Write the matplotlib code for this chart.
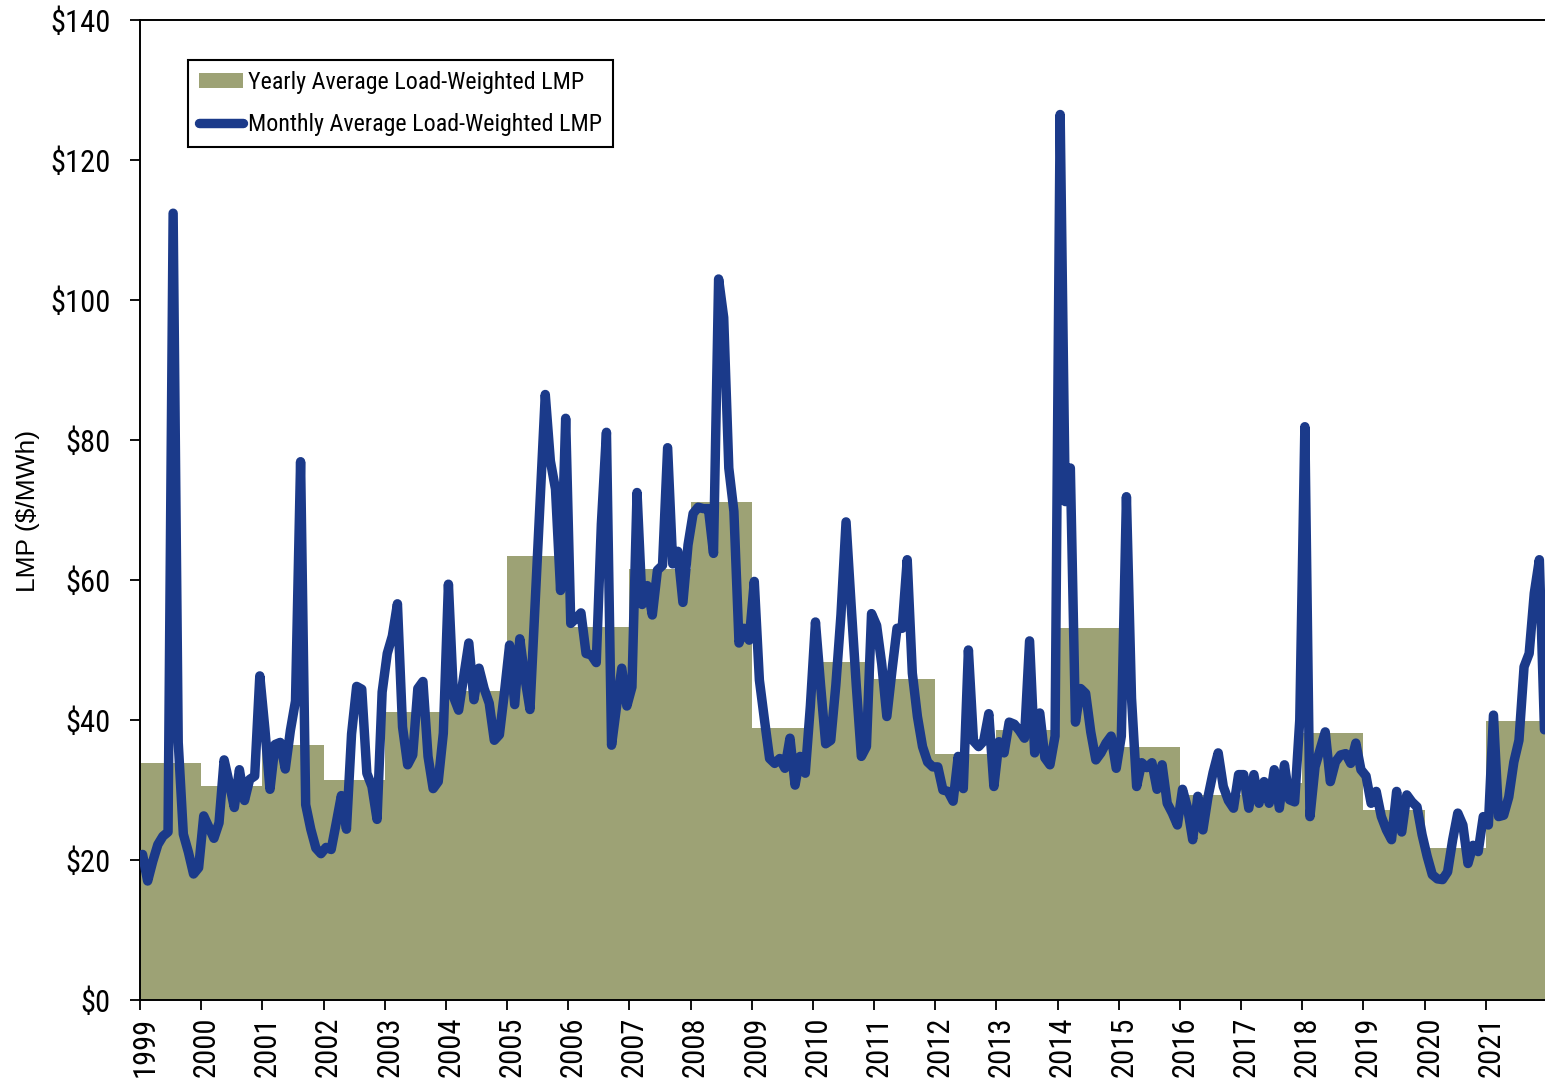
import numpy as np
import matplotlib
matplotlib.use('Agg')
import matplotlib.pyplot as plt
from matplotlib import font_manager
from matplotlib.transforms import ScaledTranslation

# ---- data -------------------------------------------------------------------------------
years = list(range(1999, 2022))
yearly_lmp = [33.9, 30.6, 36.5, 31.4, 41.1, 44.2, 63.4, 53.3, 61.6, 71.1, 38.9, 48.3,
              45.8, 35.1, 38.6, 53.1, 36.1, 29.3, 31.0, 38.2, 27.2, 21.7, 39.8]

# monthly load-weighted LMP, Jan 1999 .. Dec 2021 (one row per year)
monthly_lmp = [
    20.8, 17.0, 19.8, 22.2, 23.4, 24.0, 112.4, 36.8, 23.7, 21.1, 18.0, 18.9,   # 1999
    26.3, 24.7, 23.1, 25.3, 34.3, 31.0, 27.5, 32.9, 28.5, 31.5, 32.0, 46.3,    # 2000
    38.7, 30.1, 36.5, 36.8, 33.0, 38.5, 42.7, 76.9, 27.9, 24.4, 21.7, 20.9,    # 2001
    21.8, 21.5, 25.3, 29.2, 24.4, 38.0, 44.8, 44.4, 32.4, 30.5, 25.8, 44.0,    # 2002
    49.5, 52.0, 56.6, 39.0, 33.6, 35.0, 44.5, 45.5, 34.8, 30.2, 31.2, 38.1,    # 2003
    59.4, 43.3, 41.4, 46.2, 51.0, 42.9, 47.4, 44.5, 42.4, 37.1, 37.9, 44.0,    # 2004
    50.7, 42.2, 51.6, 46.0, 41.5, 56.5, 71.5, 86.5, 77.0, 73.0, 58.5, 83.1,    # 2005
    53.8, 54.5, 55.3, 49.5, 49.3, 48.2, 68.0, 81.1, 36.4, 42.0, 47.4, 42.0,    # 2006
    44.7, 72.5, 56.5, 59.2, 55.0, 61.4, 62.1, 78.9, 62.3, 64.1, 56.8, 65.0,    # 2007
    69.5, 70.4, 70.2, 70.2, 63.8, 103.0, 97.5, 76.0, 69.8, 51.0, 53.1, 51.4,   # 2008
    59.8, 45.7, 40.0, 34.5, 33.8, 34.5, 33.1, 37.4, 30.7, 34.8, 32.4, 42.0,    # 2009
    54.0, 45.0, 36.6, 37.1, 45.0, 55.0, 68.3, 56.4, 45.0, 34.8, 36.2, 55.2,    # 2010
    53.5, 48.0, 40.5, 47.0, 53.1, 53.1, 62.9, 46.7, 40.5, 36.2, 34.0, 33.3,    # 2011
    33.3, 30.0, 29.8, 28.4, 34.8, 30.2, 50.0, 37.0, 36.2, 37.0, 40.9, 30.5,    # 2012
    36.9, 35.3, 39.7, 39.4, 38.5, 37.4, 51.3, 35.3, 41.0, 34.6, 33.6, 37.7,    # 2013
    126.5, 71.2, 76.0, 39.7, 44.5, 43.8, 38.3, 34.3, 35.3, 36.7, 37.7, 33.1,   # 2014
    37.7, 71.9, 43.1, 30.5, 33.9, 33.2, 33.9, 30.1, 33.6, 28.1, 26.7, 25.0,    # 2015
    30.1, 27.4, 22.9, 29.1, 24.3, 29.0, 32.5, 35.3, 30.5, 28.5, 27.4, 32.2,    # 2016
    32.2, 27.4, 32.2, 28.1, 31.2, 28.1, 32.9, 27.4, 33.6, 28.6, 28.3, 40.0,    # 2017
    81.9, 26.2, 33.3, 35.8, 38.3, 31.2, 34.0, 35.0, 35.2, 33.8, 36.7, 32.9,    # 2018
    32.0, 28.1, 29.8, 26.2, 24.3, 22.9, 29.8, 24.0, 29.3, 28.3, 27.6, 23.6,    # 2019
    20.5, 17.9, 17.3, 17.2, 18.3, 22.9, 26.7, 25.0, 19.5, 22.1, 21.2, 26.2,    # 2020
    25.0, 40.7, 26.2, 26.4, 29.0, 34.0, 37.1, 47.6, 49.5, 58.1, 62.9, 38.6,    # 2021
]

OLIVE = '#9DA275'
BLUE = '#1B3A8A'

# Arial Narrow look-alike if one is installed, else regular Liberation Sans a bit smaller.
installed = {f.name for f in font_manager.fontManager.ttflist}
FAMILY, k = ['Liberation Sans', 'DejaVu Sans'], 0.84
for narrow in ('Liberation Sans Narrow', 'Arial Narrow', 'Roboto Condensed'):
    if narrow in installed:
        FAMILY, k = [narrow, 'DejaVu Sans'], 1.0
        break
plt.rcParams['font.family'] = FAMILY

W, H = 1545, 1084
fig = plt.figure(figsize=(W / 100, H / 100), dpi=100)
ax = fig.add_axes([140 / W, 84 / H, 1407 / W, 980 / H])

month_x = years[0] + (np.arange(len(monthly_lmp)) + 0.5) / 12

bars = ax.bar(years, yearly_lmp, width=1.0, align='edge', color=OLIVE, linewidth=0,
              zorder=1)
line, = ax.plot(month_x, monthly_lmp, color=BLUE, lw=6.8, solid_joinstyle='round',
                solid_capstyle='round', zorder=3)

ax.set_xlim(1999, 2022)
ax.set_ylim(0, 140)
ax.set_yticks(range(0, 141, 20))
ax.yaxis.set_major_formatter(lambda v, p: f'${v:.0f}')
ax.set_xticks(years)
ax.set_xticklabels([str(y) for y in years], rotation=90, va='top', ha='center')

ax.tick_params(axis='both', direction='out', length=7, width=1.3, color='black',
               labelsize=22 * k)
ax.tick_params(axis='y', pad=14)
ax.tick_params(axis='x', pad=5)
for side in ('left', 'bottom', 'top', 'right'):
    ax.spines[side].set_linewidth(1.4)

# year labels sit a little right of their tick
shift = ScaledTranslation(5 / 100, 0, fig.dpi_scale_trans)
for lab in ax.get_xticklabels():
    lab.set_transform(lab.get_transform() + shift)

# axis title is set in the regular (non-condensed) face
ax.set_ylabel('LMP ($/MWh)', fontsize=19, family=['Liberation Sans', 'DejaVu Sans'])
ax.yaxis.set_label_coords(-0.071, 0.499)

leg = ax.legend([bars, line],
                ['Yearly Average Load-Weighted LMP', 'Monthly Average Load-Weighted LMP'],
                loc='upper left', bbox_to_anchor=(0.0341, 0.959), borderaxespad=0,
                fancybox=False, framealpha=1, edgecolor='black', fontsize=17.3 * k,
                handlelength=1.85, handleheight=0.6, handletextpad=0.2,
                labelspacing=0.8, borderpad=0.45)
leg.get_frame().set_linewidth(1.5)

fig.savefig('out.png', dpi=100, facecolor='white')
